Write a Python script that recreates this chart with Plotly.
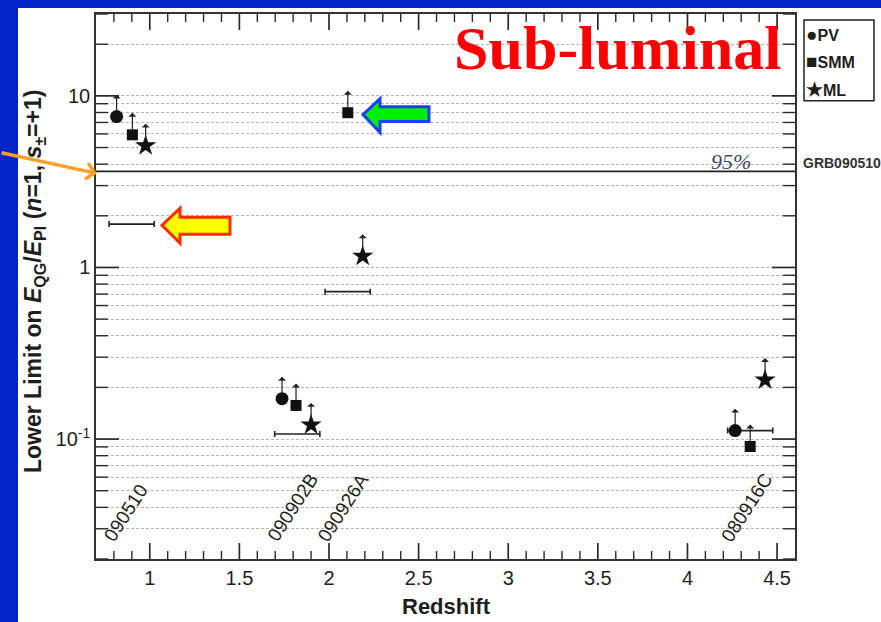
import numpy as np
import plotly.graph_objects as go

# ---------------- data ----------------
pv_z = [0.815, 1.738, 4.266]
pv_lim = [7.57, 0.172, 0.112]
smm_z = [0.903, 1.816, 2.105, 4.35]
smm_lim = [5.93, 0.157, 7.98, 0.0905]
ml_z = [0.977, 1.900, 2.188, 4.433]
ml_lim = [5.13, 0.121, 1.164, 0.221]

bar_z = [0.899, 1.823, 2.104, 4.35]
bar_dz = [0.126, 0.126, 0.126, 0.126]
bar_y = [1.79, 0.107, 0.723, 0.112]

grb_names = ["090510", "090902B", "090926A", "080916C"]
grb_label_z = [0.862, 1.797, 2.080, 4.331]

limit_95 = 3.63
limit_label = "GRB090510"

x_ticks = [1, 1.5, 2, 2.5, 3, 3.5, 4, 4.5]
x_ticktext = ["1", "1.5", "2", "2.5", "3", "3.5", "4", "4.5"]
x_minor = [round(0.8 + 0.1 * i, 1) for i in range(39)]
x_minor = [v for v in x_minor if v < 4.6 and v not in x_ticks]
y_ticks = [0.1, 1, 10]
y_ticktext = ["10<sup>-1</sup>", "1", "10"]
y_minor = [m * d for d in (0.01, 0.1, 1, 10) for m in range(2, 10) if 0.02 <= m * d <= 30]

X_RANGE = [0.7, 4.6]
Y_RANGE = [0.02, 30]

# ---------------- layout geometry ----------------
W, H = 881, 622
ML_, MR_, MT_, MB_ = 96, 86, 12, 63
PW, PH = W - ML_ - MR_, H - MT_ - MB_
YR = [np.log10(Y_RANGE[0]), np.log10(Y_RANGE[1])]


def px(xp):
    return (xp - ML_) / PW


def py(yp):
    return (H - MB_ - yp) / PH


def xfrac(v):
    return (v - X_RANGE[0]) / (X_RANGE[1] - X_RANGE[0])


def yfrac(v):
    return (np.log10(v) - YR[0]) / (YR[1] - YR[0])


BLUE = "#0423c9"
SANS = "Liberation Sans, Arial, Helvetica, sans-serif"
SERIF = "Liberation Serif, Times New Roman, serif"
INK = "#1e1e1e"
AXC = "#2a2a2a"

fig = go.Figure()

# horizontal (redshift) bars
fig.add_trace(go.Scatter(
    x=bar_z, y=bar_y, mode="markers", marker=dict(size=1, opacity=0),
    error_x=dict(type="data", array=bar_dz, symmetric=True, color="#222",
                 thickness=1.6, width=3),
    showlegend=False, hoverinfo="skip"))

# 95% limit line
fig.add_trace(go.Scatter(x=X_RANGE, y=[limit_95, limit_95], mode="lines",
                         line=dict(color="#222", width=1.6),
                         showlegend=False, hoverinfo="skip"))

fig.add_trace(go.Scatter(x=pv_z, y=pv_lim, mode="markers", name="PV",
                         marker=dict(symbol="circle", size=13, color="#111"),
                         showlegend=False))
fig.add_trace(go.Scatter(x=smm_z, y=smm_lim, mode="markers", name="SMM",
                         marker=dict(symbol="square", size=11, color="#111"),
                         showlegend=False))
fig.add_trace(go.Scatter(x=ml_z, y=ml_lim, mode="markers", name="ML",
                         marker=dict(symbol="star", size=16, color="#111"),
                         showlegend=False))

annotations = []
ARROW_DEC = 0.128  # arrow length in decades
for zs, ys in ((pv_z, pv_lim), (smm_z, smm_lim), (ml_z, ml_lim)):
    for z, v in zip(zs, ys):
        annotations.append(dict(
            x=z, y=np.log10(v) + ARROW_DEC, xref="x", yref="y",
            ax=z, ay=np.log10(v), axref="x", ayref="y",
            showarrow=True, arrowhead=1, arrowsize=1.1, arrowwidth=1.2,
            arrowcolor="#222", text="", startstandoff=4))

# GRB name labels
for name, z in zip(grb_names, grb_label_z):
    annotations.append(dict(
        x=z, y=py(548), xref="x", yref="paper", text=name, showarrow=False,
        textangle=-57, xanchor="center", yanchor="bottom",
        font=dict(family=SANS, size=19, color=INK)))

# texts
annotations += [
    dict(x=px(617), y=py(46), xref="paper", yref="paper", text="Sub-luminal",
         showarrow=False, xanchor="center", yanchor="middle",
         font=dict(family=SERIF, size=62, color="#ff0000", weight="bold")),
    dict(x=px(731), y=py(160), xref="paper", yref="paper", text="<i>95%</i>",
         showarrow=False, xanchor="center", yanchor="middle",
         font=dict(family=SERIF, size=22, color="#3c4766")),
    dict(x=px(801), y=py(162), xref="paper", yref="paper", text=limit_label,
         showarrow=False, xanchor="left", yanchor="middle",
         font=dict(family=SANS, size=14, color="#333", weight="bold")),
    dict(x=px(34), y=py(281), xref="paper", yref="paper", textangle=-90,
         text="Lower Limit on <i>E</i><sub>QG</sub>/<i>E</i><sub>Pl</sub> (<i>n</i>=1, <i>s</i><sub>±</sub>=+1)",
         showarrow=False, xanchor="center", yanchor="middle",
         font=dict(family=SANS, size=23, color=INK, weight="bold")),
    dict(x=px(446), y=py(607), xref="paper", yref="paper", text="Redshift",
         showarrow=False, xanchor="center", yanchor="middle",
         font=dict(family=SANS, size=22, color=INK, weight="bold")),
    # orange pointer
    dict(x=px(97), y=py(172), xref="paper", yref="paper", text="",
         showarrow=True, ax=-110, ay=-21, arrowhead=4, arrowsize=0.9,
         arrowwidth=3.5, arrowcolor="#f7a12b"),
]

# legend (text + box)
for i, (sym, lab) in enumerate((("●", "PV"), ("■", "SMM"), ("★", "ML"))):
    annotations.append(dict(
        x=px(804), y=py([33, 60, 88][i]), xref="paper", yref="paper",
        text=f'<span style="font-size:19px">{sym}</span>{lab}',
        showarrow=False, xanchor="left", yanchor="middle",
        font=dict(family=SANS, size=16, color=INK, weight="bold")))


def poly(points):
    return "M" + "L".join(f"{px(a):.5f},{py(b):.5f}" for a, b in points) + "Z"


shapes = [
    dict(type="rect", xref="paper", yref="paper", x0=px(18), x1=px(900),
         y0=py(640), y1=py(6), fillcolor="white", line=dict(width=0),
         layer="below"),
    dict(type="rect", xref="paper", yref="paper", x0=px(804), x1=px(874),
         y0=py(99), y1=py(18), line=dict(color="#222", width=1.5)),
    dict(type="path", xref="paper", yref="paper",
         path=poly([(162, 224), (180, 207), (180, 216), (230, 216),
                    (230, 233), (180, 233), (180, 242)]),
         fillcolor="#ffff00", line=dict(color="#ff2a00", width=3)),
    dict(type="path", xref="paper", yref="paper",
         path=poly([(363, 113), (380, 97), (380, 105), (429, 105),
                    (429, 120), (380, 120), (380, 131)]),
         fillcolor="#00ee00", line=dict(color="#1a40ff", width=3)),
]


# inside tick marks on all four sides (paper-referenced line shapes)
def ytick(v, length, w):
    f, yy = length / PW, yfrac(v)
    return [dict(type="line", xref="paper", yref="paper", x0=0, x1=f,
                 y0=yy, y1=yy, line=dict(color=AXC, width=w)),
            dict(type="line", xref="paper", yref="paper", x0=1 - f, x1=1,
                 y0=yy, y1=yy, line=dict(color=AXC, width=w))]


def xtick(v, length, w):
    f, xx = length / PH, xfrac(v)
    return [dict(type="line", xref="paper", yref="paper", x0=xx, x1=xx,
                 y0=0, y1=f, line=dict(color=AXC, width=w)),
            dict(type="line", xref="paper", yref="paper", x0=xx, x1=xx,
                 y0=1 - f, y1=1, line=dict(color=AXC, width=w))]


for v in y_ticks:
    shapes += ytick(v, 23, 1.7)
for v in y_minor:
    shapes += ytick(v, 12, 1.4)
for v in x_ticks:
    shapes += xtick(v, 16, 1.7)
for v in x_minor:
    shapes += xtick(v, 8, 1.4)

GRID = "#b4b4b4"
fig.update_layout(
    width=W, height=H,
    margin=dict(l=ML_, r=MR_, t=MT_, b=MB_),
    paper_bgcolor=BLUE, plot_bgcolor="white",
    annotations=annotations, shapes=shapes, showlegend=False,
    xaxis=dict(range=X_RANGE, tickmode="array", tickvals=x_ticks,
               ticktext=x_ticktext, ticks="",
               showgrid=False, zeroline=False, showline=True,
               linecolor="#333", linewidth=1.5, mirror=True,
               tickfont=dict(family=SANS, size=20, color=INK)),
    yaxis=dict(type="log", range=YR,
               tickmode="array", tickvals=y_ticks, ticktext=y_ticktext,
               ticks="",
               showgrid=True, gridcolor=GRID, griddash="3px,2px", gridwidth=1,
               zeroline=False, showline=True, linecolor="#333", linewidth=1.5,
               mirror=True,
               tickfont=dict(family=SANS, size=20, color=INK),
               minor=dict(tickmode="array", tickvals=y_minor, ticks="",
                          showgrid=True, gridcolor=GRID, griddash="3px,2px",
                          gridwidth=1)),
)

fig.write_html("out.html")
